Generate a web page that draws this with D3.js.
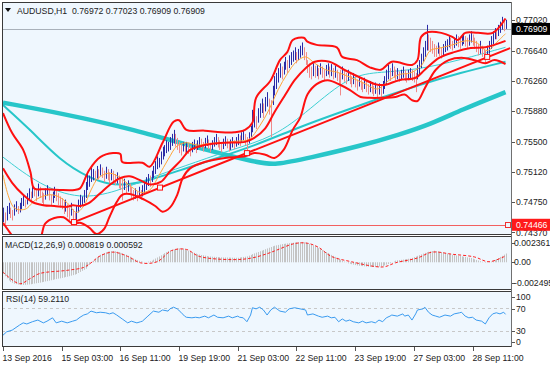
<!DOCTYPE html>
<html><head><meta charset="utf-8">
<script src="https://cdn.jsdelivr.net/npm/d3@7"></script>
<style>
html,body{margin:0;padding:0;background:#fff;}
svg{display:block;font-family:"Liberation Sans",Arial,sans-serif;}
</style></head><body>
<svg id="c" width="550" height="367"></svg>
<script>
// ---------------- DATA ----------------
const symbolTitle = "AUDUSD,H1  0.76972 0.77023 0.76909 0.76909";
const macdTitle = "MACD(12,26,9) 0.000819 0.000592";
const rsiTitle = "RSI(14) 59.2110";
const lastPrice = 0.76909;
const levelPrice = 0.74466;
const priceTicks = [0.77020, 0.76640, 0.76260, 0.75880, 0.75500, 0.75120, 0.74750, 0.74370];
const macdTicks = [0.002361, 0, -0.002495];
const macdTickLabels = ["0.002361", "0.00", "-0.002495"];
const rsiTicks = [100, 70, 30, 0];
const timeTickBars = [0, 32, 64, 96, 128, 160, 192, 224, 256];
const timeTickLabels = ["13 Sep 2016", "15 Sep 03:00", "16 Sep 11:00", "19 Sep 19:00", "21 Sep 03:00", "22 Sep 11:00", "23 Sep 19:00", "27 Sep 03:00", "28 Sep 11:00"];

// hourly bars: high and low
const barHigh = [0.7468,0.7462,0.7470,0.7474,0.7468,0.7465,0.7472,0.7476,0.7470,0.7474,
0.7480,0.7484,0.7478,0.7486,0.7492,0.7488,0.7496,0.7494,0.7490,0.7498,
0.7494,0.7488,0.7486,0.7492,0.7496,0.7490,0.7484,0.7488,0.7494,0.7490,
0.7486,0.7482,0.7480,0.7476,0.7478,0.7472,0.7468,0.7474,0.7466,0.7462,
0.7470,0.7478,0.7484,0.7482,0.7490,0.7500,0.7512,0.7508,0.7518,0.7516,
0.7514,0.7520,0.7516,0.7522,0.7518,0.7514,0.7519,0.7516,0.7512,0.7516,
0.7514,0.7510,0.7512,0.7508,0.7504,0.7506,0.7504,0.7500,0.7502,0.7498,
0.7494,0.7490,0.7492,0.7488,0.7494,0.7490,0.7496,0.7500,0.7506,0.7510,
0.7508,0.7514,0.7520,0.7526,0.7532,0.7530,0.7538,0.7544,0.7546,0.7552,
0.7550,0.7556,0.7560,0.7565,0.7560,0.7555,0.7550,0.7548,0.7550,0.7546,
0.7550,0.7548,0.7545,0.7550,0.7553,0.7548,0.7552,0.7556,0.7554,0.7550,
0.7555,0.7558,0.7553,0.7549,0.7552,0.7556,0.7560,0.7556,0.7552,0.7548,
0.7554,0.7557,0.7554,0.7550,0.7553,0.7556,0.7552,0.7556,0.7560,0.7558,
0.7562,0.7565,0.7560,0.7556,0.7562,0.7570,0.7590,0.7586,0.7582,0.7592,
0.7598,0.7604,0.7598,0.7606,0.7612,0.7604,0.7602,0.7620,0.7632,0.7636,
0.7642,0.7648,0.7644,0.7650,0.7656,0.7652,0.7658,0.7662,0.7664,0.7668,
0.7662,0.7666,0.7670,0.7674,0.7668,0.7662,0.7652,0.7648,0.7644,0.7648,
0.7645,0.7646,0.7642,0.7648,0.7644,0.7640,0.7646,0.7648,0.7644,0.7647,
0.7642,0.7645,0.7640,0.7636,0.7640,0.7644,0.7640,0.7636,0.7640,0.7636,
0.7632,0.7636,0.7632,0.7628,0.7632,0.7628,0.7625,0.7630,0.7626,0.7622,
0.7626,0.7624,0.7620,0.7624,0.7620,0.7623,0.7620,0.7626,0.7632,0.7640,
0.7646,0.7642,0.7648,0.7644,0.7640,0.7642,0.7638,0.7640,0.7644,0.7640,
0.7636,0.7640,0.7642,0.7640,0.7638,0.7636,0.7646,0.7652,0.7660,0.7668,
0.7676,0.7696,0.7684,0.7680,0.7676,0.7672,0.7670,0.7674,0.7670,0.7668,
0.7672,0.7676,0.7678,0.7682,0.7680,0.7676,0.7680,0.7684,0.7682,0.7680,
0.7684,0.7686,0.7682,0.7680,0.7684,0.7688,0.7684,0.7680,0.7676,0.7672,
0.7676,0.7670,0.7666,0.7664,0.7670,0.7676,0.7682,0.7688,0.7692,0.7690,
0.7696,0.7700,0.7706,0.7702,0.77023];
const barLow = [0.7450,0.7447,0.7452,0.7460,0.7455,0.7452,0.7458,0.7463,0.7460,0.7462,
0.7466,0.7470,0.7468,0.7472,0.7478,0.7476,0.7480,0.7482,0.7476,0.7482,
0.7480,0.7474,0.7470,0.7478,0.7483,0.7477,0.7470,0.7474,0.7480,0.7476,
0.7471,0.7468,0.7466,0.7460,0.7463,0.7456,0.7452,0.7458,0.7450,0.7446,
0.7452,0.7462,0.7468,0.7470,0.7474,0.7480,0.7490,0.7494,0.7500,0.7502,
0.7500,0.7504,0.7503,0.7508,0.7505,0.7500,0.7504,0.7502,0.7498,0.7502,
0.7498,0.7496,0.7498,0.7492,0.7490,0.7477,0.7490,0.7486,0.7488,0.7484,
0.7480,0.7477,0.7479,0.7476,0.7480,0.7478,0.7482,0.7486,0.7490,0.7495,
0.7494,0.7500,0.7505,0.7510,0.7516,0.7518,0.7522,0.7528,0.7532,0.7536,
0.7538,0.7540,0.7545,0.7548,0.7544,0.7540,0.7536,0.7533,0.7538,0.7534,
0.7536,0.7535,0.7532,0.7537,0.7540,0.7536,0.7540,0.7543,0.7542,0.7538,
0.7542,0.7545,0.7541,0.7537,0.7540,0.7544,0.7546,0.7543,0.7540,0.7537,
0.7541,0.7545,0.7542,0.7538,0.7540,0.7543,0.7541,0.7544,0.7546,0.7545,
0.7550,0.7552,0.7546,0.7538,0.7548,0.7556,0.7562,0.7568,0.7566,0.7574,
0.7580,0.7586,0.7580,0.7588,0.7594,0.7584,0.7556,0.7596,0.7608,0.7616,
0.7624,0.7630,0.7628,0.7634,0.7640,0.7636,0.7642,0.7646,0.7650,0.7652,
0.7648,0.7652,0.7655,0.7658,0.7652,0.7646,0.7636,0.7630,0.7628,0.7632,
0.7630,0.7632,0.7628,0.7634,0.7630,0.7627,0.7632,0.7634,0.7630,0.7632,
0.7628,0.7630,0.7626,0.7622,0.7608,0.7628,0.7625,0.7622,0.7626,0.7622,
0.7618,0.7622,0.7618,0.7614,0.7619,0.7615,0.7612,0.7616,0.7612,0.7609,
0.7612,0.7610,0.7607,0.7610,0.7606,0.7609,0.7606,0.7610,0.7616,0.7622,
0.7628,0.7626,0.7632,0.7630,0.7626,0.7628,0.7625,0.7627,0.7630,0.7626,
0.7624,0.7627,0.7628,0.7626,0.7624,0.7612,0.7628,0.7634,0.7642,0.7650,
0.7656,0.7664,0.7664,0.7662,0.7660,0.7656,0.7656,0.7660,0.7657,0.7654,
0.7658,0.7662,0.7664,0.7668,0.7666,0.7664,0.7667,0.7670,0.7668,0.7666,
0.7670,0.7672,0.7669,0.7667,0.7670,0.7674,0.7670,0.7666,0.7662,0.7658,
0.7660,0.7656,0.7652,0.7648,0.7654,0.7660,0.7666,0.7672,0.7678,0.7678,
0.7682,0.7686,0.7690,0.7688,0.76909];

// moving averages & bands: [bar, price] points
const maFast = [[0,0.7509],[6,0.7468],[12,0.7466],[18,0.7478],[25,0.7484],[30,0.7482],[35,0.7474],[40,0.7462],[44,0.7470],[48,0.7490],[52,0.7505],[58,0.7511],[64,0.7505],[70,0.7494],[75,0.7487],[80,0.7490],[85,0.7508],[90,0.7528],[95,0.7545],[100,0.7549],[106,0.7546],[112,0.7548],[120,0.7549],[128,0.7551],[134,0.7553],[140,0.7570],[145,0.7590],[150,0.7615],[155,0.7635],[160,0.7650],[165,0.7656],[170,0.7648],[176,0.7640],[182,0.7637],[190,0.7630],[197,0.7623],[204,0.7616],[210,0.7626],[216,0.7634],[222,0.7636],[228,0.7645],[233,0.7664],[238,0.7667],[245,0.7671],[252,0.7676],[258,0.7674],[264,0.7664],[270,0.7676],[274,0.7685]];
const bbUpper = [[0,0.7586],[5,0.7561],[11,0.7540],[15,0.7512],[17,0.7492],[23,0.7491],[31,0.7490],[39,0.7490],[42,0.7492],[47,0.7515],[53,0.7531],[60,0.7536],[64,0.7535],[65,0.7525],[76,0.7524],[80,0.7519],[87,0.7549],[93,0.7575],[96,0.7577],[100,0.7565],[110,0.7564],[119,0.7562],[126,0.7562],[132,0.7565],[136,0.7574],[138,0.7605],[146,0.7627],[151,0.7652],[155,0.7662],[158,0.7677],[164,0.7680],[166,0.7675],[171,0.7671],[182,0.7668],[185,0.7656],[193,0.7652],[200,0.7643],[206,0.7640],[212,0.7650],[223,0.7646],[226,0.7652],[228,0.7681],[232,0.7687],[239,0.7686],[245,0.7681],[248,0.7677],[252,0.7686],[259,0.7686],[267,0.7686],[274,0.7704]];
const bbMiddle = [[0,0.7517],[5,0.7499],[11,0.7484],[16,0.7475],[22,0.7471],[28,0.7470],[35,0.7469],[38,0.7471],[42,0.7470],[47,0.7474],[53,0.7486],[58,0.7496],[64,0.7505],[69,0.7507],[75,0.7502],[80,0.7497],[86,0.7500],[91,0.7513],[97,0.7527],[102,0.7540],[110,0.7546],[121,0.7549],[132,0.7550],[137,0.7555],[143,0.7567],[148,0.7587],[154,0.7609],[159,0.7627],[165,0.7642],[170,0.7650],[178,0.7650],[186,0.7640],[195,0.7630],[203,0.7622],[208,0.7621],[216,0.7627],[225,0.7630],[230,0.7640],[238,0.7655],[246,0.7662],[255,0.7667],[263,0.7668],[274,0.7676]];
const bbLower = [[0,0.7449],[5,0.7433],[12,0.7413],[20,0.7428],[23,0.7448],[28,0.7455],[33,0.7456],[38,0.7448],[42,0.7449],[47,0.7443],[51,0.7435],[55,0.7441],[58,0.7456],[62,0.7475],[65,0.7484],[69,0.7485],[77,0.7478],[83,0.7470],[87,0.7463],[91,0.7468],[95,0.7484],[98,0.7505],[102,0.7517],[110,0.7525],[121,0.7530],[132,0.7532],[137,0.7536],[143,0.7534],[148,0.7530],[153,0.7540],[158,0.7565],[162,0.7580],[166,0.7609],[171,0.7622],[177,0.7627],[184,0.7621],[189,0.7615],[195,0.7606],[200,0.7605],[206,0.7605],[214,0.7606],[219,0.7609],[223,0.7602],[226,0.7601],[230,0.7617],[236,0.7640],[243,0.7652],[250,0.7655],[257,0.7652],[263,0.7648],[268,0.7652],[274,0.7647]];
const maSlow = [[0,0.7599],[31,0.7586],[69,0.7567],[107,0.7542],[139,0.7524],[148,0.7521],[167,0.7530],[195,0.7545],[216,0.7559],[233,0.7572],[250,0.7590],[274,0.7612]];
const maMid = [[0,0.7596],[15,0.7565],[31,0.7527],[47,0.7505],[58,0.7497],[67,0.7496],[80,0.7502],[97,0.7515],[113,0.7527],[137,0.7545],[162,0.7569],[184,0.7587],[206,0.7605],[227,0.7621],[249,0.7636],[274,0.7650]];
const maThin = [[0,0.7531],[20,0.7496],[42,0.7478],[62,0.7488],[80,0.7505],[98,0.7519],[124,0.7540],[148,0.7556],[167,0.7590],[189,0.7633],[206,0.7637],[226,0.7640],[249,0.7652],[274,0.7668]];
const trendAnchors = [[38.7,0.7450],[85.6,0.7493],[133,0.7536],[264,0.7656],[276.5,0.7667]];

// MACD main value per bar, and signal line points
const macdMain = [-0.00110,-0.00130,-0.00150,-0.00170,-0.00182,-0.00192,-0.00200,-0.00204,-0.00208,-0.00210,
-0.00212,-0.00212,-0.00211,-0.00209,-0.00207,-0.00205,-0.00202,-0.00199,-0.00196,-0.00193,
-0.00190,-0.00186,-0.00183,-0.00179,-0.00176,-0.00172,-0.00168,-0.00164,-0.00160,-0.00157,
-0.00153,-0.00150,-0.00146,-0.00142,-0.00138,-0.00135,-0.00130,-0.00125,-0.00120,-0.00115,
-0.00110,-0.00100,-0.00090,-0.00080,-0.00070,-0.00060,-0.00042,-0.00024,-0.00005,0.00012,
0.00030,0.00044,0.00057,0.00070,0.00078,0.00086,0.00093,0.00100,0.00102,0.00104,
0.00106,0.00103,0.00099,0.00095,0.00089,0.00083,0.00076,0.00070,0.00061,0.00052,
0.00044,0.00035,0.00028,0.00021,0.00014,0.00008,0.00005,0.00003,0.00002,0.00006,
0.00010,0.00015,0.00025,0.00035,0.00045,0.00055,0.00065,0.00075,0.00085,0.00095,
0.00105,0.00110,0.00115,0.00120,0.00125,0.00130,0.00130,0.00129,0.00128,0.00121,
0.00114,0.00107,0.00100,0.00094,0.00088,0.00081,0.00075,0.00072,0.00068,0.00065,
0.00062,0.00058,0.00055,0.00054,0.00052,0.00051,0.00050,0.00049,0.00047,0.00046,
0.00045,0.00045,0.00044,0.00044,0.00043,0.00043,0.00042,0.00042,0.00042,0.00045,
0.00047,0.00050,0.00052,0.00055,0.00062,0.00069,0.00076,0.00083,0.00090,0.00096,
0.00103,0.00109,0.00115,0.00122,0.00129,0.00136,0.00143,0.00150,0.00154,0.00158,
0.00162,0.00166,0.00170,0.00172,0.00174,0.00176,0.00179,0.00181,0.00183,0.00184,
0.00186,0.00187,0.00189,0.00190,0.00187,0.00183,0.00180,0.00172,0.00165,0.00157,
0.00150,0.00141,0.00132,0.00123,0.00114,0.00105,0.00096,0.00087,0.00078,0.00069,
0.00060,0.00051,0.00042,0.00033,0.00024,0.00015,0.00007,-0.00002,-0.00010,-0.00014,
-0.00018,-0.00022,-0.00026,-0.00030,-0.00032,-0.00034,-0.00036,-0.00038,-0.00040,-0.00042,
-0.00043,-0.00044,-0.00044,-0.00045,-0.00043,-0.00040,-0.00038,-0.00035,-0.00029,-0.00022,
-0.00016,-0.00010,-0.00002,0.00007,0.00015,0.00018,0.00020,0.00023,0.00025,0.00028,
0.00030,0.00033,0.00035,0.00041,0.00048,0.00054,0.00060,0.00067,0.00074,0.00081,
0.00088,0.00095,0.00098,0.00102,0.00105,0.00108,0.00104,0.00101,0.00097,0.00094,
0.00090,0.00086,0.00082,0.00078,0.00074,0.00070,0.00067,0.00064,0.00061,0.00058,
0.00055,0.00052,0.00049,0.00046,0.00043,0.00040,0.00034,0.00028,0.00022,0.00016,
0.00010,0.00005,0.00000,-0.00005,-0.00002,0.00002,0.00005,0.00014,0.00023,0.00031,
0.00040,0.00050,0.00060,0.00071,0.000819];
const macdSignal = [[0,-0.00091],[9,-0.00200],[15,-0.00150],[20,-0.00105],[35,-0.00075],[44,-0.00048],[48,-0.00005],[53,0.00060],[60,0.00095],[68,0.00055],[75,-0.00005],[84,0.00005],[92,0.00110],[100,0.00120],[107,0.00055],[125,0.00025],[135,0.00038],[144,0.00080],[149,0.00112],[159,0.00175],[166,0.00178],[172,0.00140],[179,0.00055],[190,0.00005],[203,-0.00040],[208,-0.00042],[214,-0.00005],[226,0.00040],[234,0.00095],[245,0.00075],[257,0.00050],[265,0.00005],[274,0.000592]];

// RSI(14) points
const rsiPts = [[0,22],[2,28],[5,31],[9,40],[11,44],[13,42],[16,46],[19,49],[22,44],[24,47],[27,53],[29,44],[32,47],[35,44],[38,47],[40,49],[42,54],[44,58],[46,60],[48,65],[51,62],[53,63],[56,62],[58,60],[60,62],[62,58],[65,51],[68,44],[70,47],[73,44],[75,46],[76,47],[79,56],[82,65],[85,63],[87,67],[90,65],[91,69],[93,72],[95,69],[97,63],[99,56],[100,54],[103,53],[105,54],[107,53],[110,56],[112,53],[115,58],[117,54],[120,53],[123,56],[125,53],[128,56],[129,54],[131,53],[133,46],[135,58],[136,71],[138,69],[140,72],[142,67],[144,58],[146,67],[148,72],[151,65],[154,63],[156,69],[159,71],[162,69],[165,67],[166,58],[169,60],[172,56],[174,54],[177,56],[179,53],[181,54],[183,46],[185,51],[187,47],[189,49],[191,46],[194,44],[196,47],[198,44],[201,46],[203,44],[205,49],[207,46],[209,53],[211,56],[212,58],[215,56],[218,60],[219,56],[221,58],[223,49],[225,60],[226,67],[229,69],[230,72],[232,63],[234,58],[236,56],[238,54],[241,58],[244,56],[246,60],[249,62],[250,63],[252,56],[254,53],[256,54],[258,49],[261,47],[263,42],[265,53],[267,60],[269,62],[271,60],[273,63],[274,59.211]];
const rsiLevels = [70, 30];

// ---------------- DRAW ----------------
const svg = d3.select("#c");
const panelFill = "#EFF7FE";
const PL = 2, PR = 511;
const panels = {main:[2,234], macd:[236,289], rsi:[291,346]};
const nBars = barHigh.length;
const x = d3.scaleLinear().domain([0, nBars-1]).range([3, 3 + (nBars-1)*1.834]);
const yMain = d3.scaleLinear().domain([0.74351, 0.77245]).range([234, 2]);
const yMacd = d3.scaleLinear().domain([-0.002495, 0.002361]).range([289, 237]);
const yRsi = d3.scaleLinear().domain([0, 100]).range([347.5, 291.5]);

svg.append("rect").attr("width",550).attr("height",367).attr("fill","#fff");
const defs = svg.append("defs");
Object.entries(panels).forEach(([k,[t,b]])=>{
  svg.append("rect").attr("x",PL+0.5).attr("y",t+0.5).attr("width",PR-PL).attr("height",b-t)
    .attr("fill",panelFill).attr("stroke","#3a3a3a").attr("stroke-width",1);
  defs.append("clipPath").attr("id","clip-"+k).append("rect")
    .attr("x",PL+1).attr("y",t+1).attr("width",PR-PL-1).attr("height",b-t-1);
});
const gMain = svg.append("g").attr("clip-path","url(#clip-main)");
const gMacd = svg.append("g").attr("clip-path","url(#clip-macd)");
const gRsi = svg.append("g").attr("clip-path","url(#clip-rsi)");

const px = i => Math.round(x(i)) + 0.5;

// level line and last price line
gMain.append("line").attr("x1",PL).attr("x2",PR).attr("y1",Math.round(yMain(lastPrice))+0.5).attr("y2",Math.round(yMain(lastPrice))+0.5)
  .attr("stroke","#A9B1BA").attr("stroke-width",1);
gMain.append("line").attr("x1",PL).attr("x2",508).attr("y1",Math.round(yMain(levelPrice))+0.5).attr("y2",Math.round(yMain(levelPrice))+0.5)
  .attr("stroke","#F26060").attr("stroke-width",1);
gMain.append("rect").attr("x",505.5).attr("y",Math.round(yMain(levelPrice))-2.5).attr("width",5).attr("height",5)
  .attr("fill",panelFill).attr("stroke","#F03030").attr("stroke-width",1);

const line = (yS, curve) => d3.line().x(d=>x(d[0])).y(d=>yS(d[1])).curve(curve || d3.curveMonotoneX);

// slow MAs
gMain.append("path").datum(maSlow).attr("d",line(yMain, d3.curveBasis)).attr("fill","none").attr("stroke","#27C6C9").attr("stroke-width",4.5);
gMain.append("path").datum(maMid).attr("d",line(yMain, d3.curveBasis)).attr("fill","none").attr("stroke","#27C6C9").attr("stroke-width",2);
gMain.append("path").datum(maThin).attr("d",line(yMain, d3.curveBasis)).attr("fill","none").attr("stroke","#3ED0D3").attr("stroke-width",1);

// bars
const mid = i => (barHigh[i]+barLow[i])/2;
gMain.selectAll("line.bar").data(barHigh).join("line").attr("class","bar")
  .attr("x1",(d,i)=>px(i)).attr("x2",(d,i)=>px(i))
  .attr("y1",d=>yMain(d)).attr("y2",(d,i)=>yMain(barLow[i]))
  .attr("stroke",(d,i)=> (i===0 || mid(i) >= mid(i-1)) ? "#2B2BA6" : "#F08A8A")
  .attr("stroke-width",1);

// fast MA
gMain.append("path").datum(maFast).attr("d",line(yMain, d3.curveCatmullRom)).attr("fill","none").attr("stroke","#FFA53A").attr("stroke-width",1);

// Bollinger bands
[bbUpper, bbMiddle, bbLower].forEach(b=>{
  gMain.append("path").datum(b).attr("d",line(yMain, d3.curveCatmullRom)).attr("fill","none").attr("stroke","#FF1010").attr("stroke-width",2);
});

// trend line
const tA = trendAnchors[0], tB = trendAnchors[trendAnchors.length-1];
gMain.append("line").attr("x1",x(tA[0])).attr("y1",yMain(tA[1])).attr("x2",x(tB[0])).attr("y2",yMain(tB[1]))
  .attr("stroke","#FF1010").attr("stroke-width",2);
gMain.selectAll("rect.anchor").data(trendAnchors.slice(0,-1)).join("rect").attr("class","anchor")
  .attr("x",d=>x(d[0])-2.5).attr("y",d=>yMain(d[1])-2.5).attr("width",5).attr("height",5)
  .attr("fill",panelFill).attr("stroke","#FF1010").attr("stroke-width",1);

// MACD
gMacd.selectAll("line.h").data(macdMain).join("line").attr("class","h")
  .attr("x1",(d,i)=>px(i)).attr("x2",(d,i)=>px(i))
  .attr("y1",yMacd(0)).attr("y2",d=>yMacd(d))
  .attr("stroke","#C4C4C4").attr("stroke-width",1);
gMacd.append("path").datum(macdSignal).attr("d",line(yMacd, d3.curveCatmullRom)).attr("fill","none")
  .attr("stroke","#FF2020").attr("stroke-width",1).attr("stroke-dasharray","3,2");

// RSI
rsiLevels.forEach(v=>{
  gRsi.append("line").attr("x1",PL).attr("x2",PR).attr("y1",Math.round(yRsi(v))+0.5).attr("y2",Math.round(yRsi(v))+0.5)
    .attr("stroke","#C8C8C8").attr("stroke-dasharray","3,3");
});
gRsi.append("path").datum(rsiPts).attr("d",line(yRsi, d3.curveLinear)).attr("fill","none").attr("stroke","#3A9BF0").attr("stroke-width",1);

// right axis line
svg.append("line").attr("x1",PR+0.5).attr("x2",PR+0.5).attr("y1",2).attr("y2",347).attr("stroke","#707070").attr("stroke-width",1);

const fs = 8.7;
function rightLabel(y, txt, bg, color, tx){
  svg.append("line").attr("x1",PR+1).attr("x2",PR+4).attr("y1",Math.round(y)+0.5).attr("y2",Math.round(y)+0.5).attr("stroke","#555");
  if(bg){
    svg.append("rect").attr("x",PR+1).attr("y",y-6).attr("width",39).attr("height",12).attr("fill",bg);
  }
  svg.append("text").attr("x",tx || PR+5).attr("y",y).attr("dy","0.35em").attr("font-size",fs).attr("fill",color||"#222").text(txt);
}
priceTicks.forEach(v=>rightLabel(yMain(v), v.toFixed(5)));
rightLabel(yMain(lastPrice), lastPrice.toFixed(5), "#000", "#fff");
rightLabel(yMain(levelPrice), levelPrice.toFixed(5), "#FF1A1A", "#fff");

const macdLabelY = [243, yMacd(0), 283];
macdTicks.forEach((v,i)=>rightLabel(macdLabelY[i], macdTickLabels[i], null, null, PR+3));
const rsiLabelY = [297, 309, 331, 342];
rsiTicks.forEach((v,i)=>rightLabel(rsiLabelY[i], String(v)));

// time axis
timeTickBars.forEach((b,i)=>{
  const xx = px(b);
  svg.append("line").attr("x1",xx).attr("x2",xx).attr("y1",347).attr("y2",351).attr("stroke","#555");
  svg.append("text").attr("x",xx-1).attr("y",361).attr("font-size",fs).attr("fill","#222").text(timeTickLabels[i]);
});

// titles
svg.append("path").attr("d","M5,8 L11,8 L8,12 Z").attr("fill","#111");
svg.append("text").attr("x",17).attr("y",13.5).attr("font-size",fs).attr("fill","#222").attr("xml:space","preserve").style("white-space","pre").text(symbolTitle);
svg.append("text").attr("x",5).attr("y",248).attr("font-size",fs).attr("fill","#222").text(macdTitle);
svg.append("text").attr("x",6).attr("y",302).attr("font-size",fs).attr("fill","#222").text(rsiTitle);
</script>
</body></html>
